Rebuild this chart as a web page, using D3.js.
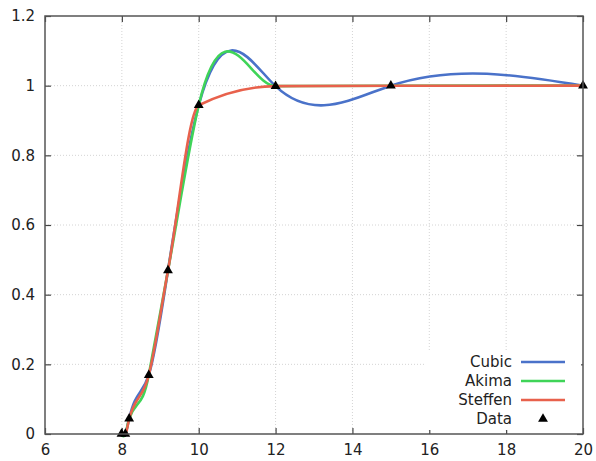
<!DOCTYPE html>
<html>
<head>
<meta charset="utf-8">
<script src="https://cdn.jsdelivr.net/npm/d3@7"></script>
<style>
  body { margin: 0; background: #fff; }
  text { font-family: "DejaVu Sans", sans-serif; font-size: 15px; fill: #222; }
</style>
</head>
<body>
<div class="chart"></div>
<script>
// data points (GSL interpolation example)
var xData = [7.99, 8.09, 8.19, 8.7, 9.2, 10, 12, 15, 20];
var yData = [0, 0.0000276, 0.04375, 0.169183, 0.469428, 0.94374, 0.998636, 0.999919, 0.999994];
var xTicks = [6, 8, 10, 12, 14, 16, 18, 20];
var yTicks = [0, 0.2, 0.4, 0.6, 0.8, 1, 1.2];
var seriesNames = ["Cubic", "Akima", "Steffen"];
var seriesColors = ["#4a72c9", "#3fd458", "#e8614c"];

var svgWidth = 596, svgHeight = 461;
var margin = {top: 16, right: 13, bottom: 27, left: 45};
var chartWidth = svgWidth - margin.left - margin.right;
var chartHeight = svgHeight - margin.top - margin.bottom;

//Curve factory for d3.line: cubic Hermite pieces y(x), slopes from slopeFn.
function hermiteCurve(slopeFn) {
  return function(context) {
    var xs, ys;
    return {
      areaStart: function() {}, areaEnd: function() {},
      lineStart: function() { xs = []; ys = []; },
      point: function(x, y) { xs.push(+x); ys.push(+y); },
      lineEnd: function() {
        var n = xs.length;
        if (!n) return;
        context.moveTo(xs[0], ys[0]);
        var m = slopeFn(xs, ys);
        for (var i = 0; i < n - 1; i++) {
          var h = xs[i + 1] - xs[i];
          context.bezierCurveTo(xs[i] + h / 3, ys[i] + m[i] * h / 3,
            xs[i + 1] - h / 3, ys[i + 1] - m[i + 1] * h / 3, xs[i + 1], ys[i + 1]);
        }
      }
    };
  };
}

// natural cubic spline slopes
function naturalSlopes(x, y) {
  var n = x.length, h = [], M = new Array(n).fill(0);
  for (var i = 0; i < n - 1; i++) h.push(x[i + 1] - x[i]);
  var a = [], b = [], c = [], r = [];
  for (var i = 1; i < n - 1; i++) {
    a.push(h[i - 1]); b.push(2 * (h[i - 1] + h[i])); c.push(h[i]);
    r.push(6 * ((y[i + 1] - y[i]) / h[i] - (y[i] - y[i - 1]) / h[i - 1]));
  }
  var k = b.length;
  for (var i = 1; i < k; i++) {
    var w = a[i] / b[i - 1];
    b[i] -= w * c[i - 1]; r[i] -= w * r[i - 1];
  }
  var sol = new Array(k);
  for (var i = k - 1; i >= 0; i--) sol[i] = (r[i] - (i < k - 1 ? c[i] * sol[i + 1] : 0)) / b[i];
  for (var i = 0; i < k; i++) M[i + 1] = sol[i];
  var m = [];
  for (var i = 0; i < n - 1; i++) m.push((y[i + 1] - y[i]) / h[i] - h[i] * (2 * M[i] + M[i + 1]) / 6);
  m.push((y[n - 1] - y[n - 2]) / h[n - 2] + h[n - 2] * (M[n - 2] + 2 * M[n - 1]) / 6);
  return m;
}

// Akima slopes
function akimaSlopes(x, y) {
  var n = x.length, d = [];
  for (var i = 0; i < n - 1; i++) d.push((y[i + 1] - y[i]) / (x[i + 1] - x[i]));
  var dm1 = 2 * d[0] - d[1], dm2 = 2 * dm1 - d[0];
  var dp1 = 2 * d[n - 2] - d[n - 3], dp2 = 2 * dp1 - d[n - 2];
  var e = [dm2, dm1].concat(d, [dp1, dp2]);
  var m = [];
  for (var i = 0; i < n; i++) {
    var s0 = e[i], s1 = e[i + 1], s2 = e[i + 2], s3 = e[i + 3];
    var w1 = Math.abs(s3 - s2), w2 = Math.abs(s1 - s0);
    m.push(w1 + w2 === 0 ? (s1 + s2) / 2 : (w1 * s1 + w2 * s2) / (w1 + w2));
  }
  return m;
}

var svg = d3.select(".chart").append("svg")
  .attr("width", svgWidth).attr("height", svgHeight);
var chart = svg.append("g")
  .attr("transform", "translate(" + margin.left + "," + margin.top + ")");

var xScale = d3.scaleLinear().domain([6, 20]).range([0, chartWidth]);
var yScale = d3.scaleLinear().domain([0, 1.2]).range([chartHeight, 0]);

// dotted grid
chart.append("g").selectAll("line").data(xTicks.slice(1, -1)).enter().append("line")
  .attr("x1", d => xScale(d)).attr("x2", d => xScale(d))
  .attr("y1", 0).attr("y2", chartHeight)
  .attr("stroke", "#d4d4d4").attr("stroke-dasharray", "1,2");
chart.append("g").selectAll("line").data(yTicks.slice(1, -1)).enter().append("line")
  .attr("y1", d => yScale(d)).attr("y2", d => yScale(d))
  .attr("x1", 0).attr("x2", chartWidth)
  .attr("stroke", "#d4d4d4").attr("stroke-dasharray", "1,2");

// axes (inward ticks, mirrored)
function styleAxis(g) {
  g.select(".domain").remove();
  g.selectAll(".tick line").attr("stroke", "#444").attr("stroke-width", 1.2);
  g.selectAll(".tick text").attr("fill", "#222").style("font-size", "15px");
}
var fmt = d3.format("~g");
chart.append("g").attr("transform", "translate(0," + chartHeight + ")")
  .call(d3.axisBottom(xScale).tickValues(xTicks).tickFormat(fmt).tickSizeInner(-6).tickPadding(10))
  .call(styleAxis);
chart.append("g")
  .call(d3.axisLeft(yScale).tickValues(yTicks).tickFormat(fmt).tickSizeInner(-6).tickPadding(10))
  .call(styleAxis);
chart.append("g")
  .call(d3.axisTop(xScale).tickValues(xTicks).tickSizeInner(-6).tickFormat(""))
  .call(styleAxis);
chart.append("g").attr("transform", "translate(" + chartWidth + ",0)")
  .call(d3.axisRight(yScale).tickValues(yTicks).tickSizeInner(-6).tickFormat(""))
  .call(styleAxis);

var pts = xData.map((x, i) => [x, yData[i]]);
var curves = [hermiteCurve(naturalSlopes), hermiteCurve(akimaSlopes), d3.curveMonotoneX];

curves.forEach(function(c, i) {
  var line = d3.line().x(d => xScale(d[0])).y(d => yScale(d[1])).curve(c);
  chart.append("path").datum(pts)
    .attr("d", line)
    .attr("fill", "none")
    .attr("stroke", seriesColors[i])
    .attr("stroke-width", 2.6)
    .attr("stroke-linejoin", "round");
});

var tri = d3.symbol().type(d3.symbolTriangle).size(42);
chart.append("g").selectAll("path").data(pts).enter().append("path")
  .attr("d", tri)
  .attr("transform", d => "translate(" + xScale(d[0]) + "," + yScale(d[1]) + ")")
  .attr("fill", "#000");

// legend
var legend = chart.append("g").attr("transform", "translate(380,336)");
legend.append("rect").attr("x", 0).attr("y", 0).attr("width", 156).attr("height", 78).attr("fill", "#fff");
var legendItems = seriesNames.concat(["Data"]);
legendItems.forEach(function(name, i) {
  var y = 10 + i * 19;
  legend.append("text").attr("x", 87).attr("y", y).attr("dy", "0.35em")
    .attr("text-anchor", "end").text(name);
  if (i < 3) {
    legend.append("line").attr("x1", 96).attr("x2", 140).attr("y1", y).attr("y2", y)
      .attr("stroke", seriesColors[i]).attr("stroke-width", 2.6);
  } else {
    legend.append("path").attr("d", tri).attr("transform", "translate(118," + y + ")");
  }
});

// frame
chart.append("rect").attr("width", chartWidth).attr("height", chartHeight)
  .attr("fill", "none").attr("stroke", "#555").attr("stroke-width", 1.5);
</script>
</body>
</html>
